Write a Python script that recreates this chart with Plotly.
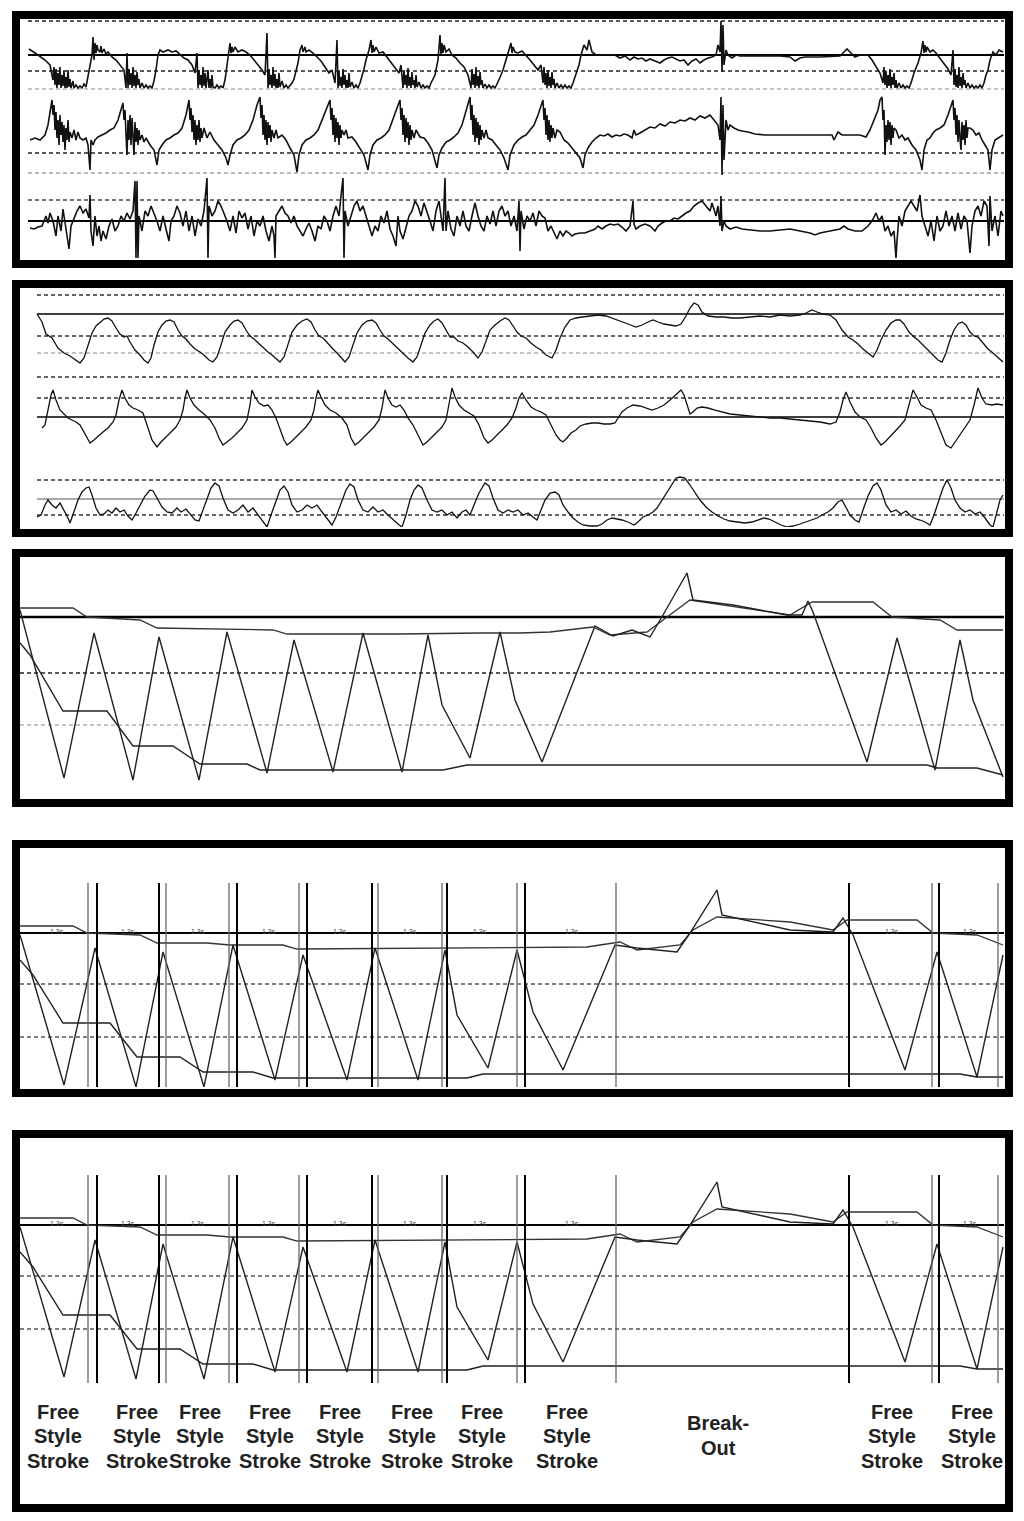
import plotly.graph_objects as go

# page pixels; the html body adds an 8px margin, so the figure is drawn 8px in
PAGE_OFF = 8
FW, FH = 1016, 1505

# ---------------- data (time index, signal value relative to channel reference) ----------------
# panel 1 : raw channels
p1a = [(29,6),(33,3),(38,0),(45,-5),(50,-10),
       (53,-25),(54,-12),(55,-30),(56,-14),(57,-33),(58,-18),(59,-30),(60,-12),(61,-33),(62,-20),(63,-31),(64,-16),(65,-33),(66,-22),(67,-33),(68,-15),(69,-32),(70,-24),(71,-33),(73,-26),(74,-33),(76,-30),(78,-33),(80,-31),(82,-33),(84,-29),(86,-32),(88,-22),(89,-15),
       (91,-5),(92,0),(93,18),(94,-5),(95,12),(96,2),(97,10),(98,5),(100,3),(101,9),(102,2),(104,6),(106,1),(108,3),(112,-2),(116,-5),(120,-10),
       (124,-15),(126,-33),(127,2),(128,-33),(129,-14),(130,-30),(131,-18),(132,-33),(133,-12),(134,-31),(135,-20),(136,-33),(137,-17),(138,-30),(139,-24),(140,-33),(142,-28),(144,-33),(146,-30),(148,-33),(150,-31),(152,-33),(154,-26),(156,-15),
       (158,0),(160,5),(163,3),(168,5),(172,3),(176,4),(180,0),(184,-3),(188,-5),(192,-10),
       (195,-18),(197,2),(198,-33),(199,-15),(200,-30),(201,-20),(202,-33),(203,-12),(204,-31),(205,-18),(206,-33),(207,-22),(208,-15),(209,-33),(210,-24),(211,-33),(212,-20),(213,-32),(215,-33),(217,-30),(219,-33),(221,-31),(223,-33),(225,-25),(227,-10),
       (229,5),(230,12),(231,2),(232,8),(233,3),(235,8),(238,3),(242,5),(246,3),(250,0),(254,-5),(258,-10),(262,-15),
       (265,-20),(267,22),(268,-33),(269,-14),(270,-30),(271,-20),(272,-33),(273,-12),(274,-31),(275,-19),(276,-33),(277,-24),(278,-33),(279,-18),(280,-32),(282,-26),(284,-33),(286,-30),(288,-33),(290,-31),(292,-28),(294,-24),(296,-15),(298,-8),
       (300,5),(302,10),(303,3),(305,8),(306,3),(309,5),(313,2),(317,-2),(321,-6),(325,-12),(329,-18),(332,-15),
       (335,-28),(337,15),(338,-33),(339,-16),(340,-31),(341,-22),(342,-33),(343,-14),(344,-30),(345,-20),(346,-33),(347,-25),(348,-33),(349,-18),(350,-32),(352,-27),(354,-33),(356,-30),(358,-33),(360,-28),(362,-22),(364,-14),(366,-5),
       (369,5),(371,15),(372,2),(373,10),(374,3),(376,8),(379,2),(383,3),(387,-2),(391,-8),(395,-12),
       (399,-18),(401,-10),(403,-33),(404,-15),(405,-30),(406,-20),(407,-33),(408,-13),(409,-31),(410,-22),(411,-33),(412,-17),(413,-30),(414,-25),(415,-33),(416,-20),(417,-32),(419,-27),(421,-33),(423,-30),(425,-33),(427,-31),(429,-33),(431,-28),(433,-24),(435,-20),(438,-5),
       (440,20),(441,0),(442,12),(443,2),(444,10),(446,3),(449,6),(452,0),(456,-3),(460,-8),(464,-12),
       (468,-20),(471,-33),(472,-14),(473,-30),(474,-19),(475,-33),(476,-12),(477,-31),(478,-21),(479,-33),(480,-17),(481,-30),(482,-25),(483,-33),(485,-29),(487,-33),(489,-30),(491,-33),(493,-31),(495,-33),(497,-29),(499,-25),(501,-20),(503,-15),
       (506,-5),(509,5),(511,12),(512,2),(513,8),(515,3),(518,2),(522,4),(526,0),(530,-5),(534,-10),(538,-15),
       (541,-10),(543,-28),(544,-12),(545,-30),(546,-18),(547,-33),(548,-15),(549,-31),(550,-22),(551,-33),(552,-17),(553,-30),(554,-24),(555,-33),(557,-28),(559,-33),(561,-30),(563,-33),(565,-30),(567,-33),(569,-31),(571,-33),(573,-28),(576,-20),(579,-10),
       (581,0),(584,10),(587,5),(589,15),(592,3),(596,0),(600,0),(605,0),(610,0),(615,0),(620,-3),(625,-1),(630,-5),(634,-2),(638,-4),(642,-3),(646,-6),(650,-4),(655,-6),(660,-8),(664,-5),(668,-3),(672,-2),(676,-4),(680,-6),(684,-5),(688,-10),(692,-6),(696,-4),(700,-8),(704,-5),(708,-3),(712,-2),(716,0),(718,10),(720,3),(721,34),(722,-17),(723,30),(724,-10),(726,5),(728,0),(732,-3),(736,0),(740,-1),(760,-1),(780,-1),(790,-2),(795,-6),(800,-3),(805,-2),(820,-2),(840,-1),(843,2),(847,6),(851,2),(855,-2),(860,0),(868,0),(872,-5),(876,-12),
       (880,-18),(883,-28),(884,-12),(885,-30),(886,-16),(887,-33),(888,-20),(889,-31),(890,-14),(891,-33),(892,-22),(893,-30),(894,-18),(895,-33),(896,-25),(897,-33),(899,-28),(901,-33),(903,-30),(905,-33),(907,-31),(909,-33),(911,-28),(914,-18),(918,-8),
       (921,2),(923,14),(924,2),(925,10),(926,3),(927,8),(930,3),(933,5),(936,2),(940,-3),(944,-8),(948,-14),
       (951,-20),(953,5),(954,-30),(955,-14),(956,-32),(957,-20),(958,-33),(959,-12),(960,-31),(961,-22),(962,-33),(963,-18),(964,-30),(965,-25),(966,-33),(968,-28),(970,-33),(972,-30),(974,-33),(976,-31),(978,-33),(980,-30),(982,-33),(984,-28),(986,-20),(988,-15),(990,-5),
       (993,3),(996,0),(999,5),(1003,3)]
p1a_solid = [0]
p1a_dash = [34, -16]
p1a_light = [-34]

p1b = [(30,10),(35,12),(40,10),(45,15),(48,25),(50,40),(52,50),(53,35),(54,45),(55,20),(56,38),(57,12),(58,30),(59,5),(60,35),(61,15),(62,28),(63,8),(64,25),(65,0),(66,22),(67,10),(68,30),(69,8),(70,18),(72,12),(74,20),(76,10),(78,18),(80,12),(83,10),(86,12),(88,5),(90,-20),(91,10),(93,5),(95,10),(98,13),(102,15),(106,17),(110,20),(114,22),(118,30),(121,40),(123,47),(124,30),(125,40),(126,15),(127,-5),(128,30),(129,10),(130,35),(131,5),(132,32),(133,12),(134,-5),(135,28),(136,8),(137,22),(138,5),(139,20),(140,10),(142,15),(144,8),(146,12),(150,5),(154,0),(157,-15),(159,0),(162,5),(166,10),(170,12),(174,15),(178,17),(182,22),(186,35),(189,50),(190,30),(191,42),(192,18),(193,35),(194,10),(195,30),(196,5),(197,25),(198,10),(199,30),(200,8),(201,22),(202,12),(204,22),(207,12),(210,18),(214,10),(218,5),(222,0),(226,-8),(228,-15),(230,-5),(233,5),(237,10),(241,12),(245,15),(249,20),(253,30),(257,45),(260,53),(261,32),(262,45),(263,15),(264,35),(265,10),(266,30),(267,5),(268,28),(269,12),(270,25),(271,8),(272,20),(274,12),(276,20),(278,12),(282,15),(286,10),(290,2),(294,-5),(297,-22),(299,-5),(302,5),(306,10),(310,12),(314,15),(318,20),(322,30),(326,40),(330,50),(331,30),(332,42),(333,15),(334,35),(335,8),(336,32),(337,12),(338,28),(339,5),(340,25),(341,12),(342,20),(344,15),(346,20),(348,12),(352,13),(356,8),(360,2),(364,-5),(368,-20),(370,-5),(373,5),(377,10),(381,12),(385,15),(389,20),(393,30),(397,42),(400,50),(401,30),(402,42),(403,15),(404,35),(405,8),(406,32),(407,12),(408,28),(409,5),(410,25),(411,10),(412,20),(414,12),(416,20),(420,13),(424,12),(428,7),(432,0),(435,-10),(437,-18),(439,-5),(442,2),(446,8),(450,10),(454,13),(458,17),(462,25),(466,38),(470,53),(471,30),(472,45),(473,15),(474,35),(475,8),(476,32),(477,12),(478,28),(479,5),(480,25),(481,10),(482,20),(484,12),(486,20),(488,12),(492,10),(496,5),(500,0),(504,-8),(508,-20),(510,-5),(514,5),(518,10),(522,13),(526,15),(530,20),(534,25),(538,35),(541,45),(543,50),(544,30),(545,42),(546,15),(547,35),(548,10),(549,30),(550,8),(551,25),(552,12),(553,22),(555,12),(557,20),(560,18),(564,10),(568,7),(572,2),(576,-2),(580,-8),(583,-18),(585,-5),(588,2),(592,8),(596,12),(600,15),(604,14),(608,16),(612,13),(616,15),(620,14),(624,16),(628,15),(632,12),(634,20),(636,15),(640,17),(645,20),(650,23),(655,22),(660,26),(665,24),(670,28),(675,27),(680,30),(685,29),(690,32),(695,30),(700,34),(705,32),(710,35),(714,30),(718,25),(720,10),(721,53),(722,-25),(723,45),(724,-10),(726,30),(728,20),(730,25),(734,22),(738,20),(742,19),(748,18),(755,16),(765,15),(780,15),(800,15),(820,15),(832,15),(834,10),(838,18),(842,15),(850,15),(860,15),(866,13),(870,20),(874,30),(878,40),(880,50),(882,53),(883,30),(884,40),(885,-5),(886,25),(887,8),(888,30),(889,10),(890,28),(891,5),(892,25),(893,12),(894,22),(896,20),(899,12),(902,15),(905,10),(908,12),(912,5),(916,0),(920,-10),(922,-20),(924,0),(927,10),(930,12),(933,17),(936,20),(940,22),(944,25),(948,35),(951,45),(953,50),(954,30),(955,42),(956,15),(957,35),(958,8),(959,30),(960,12),(961,0),(962,28),(963,10),(964,25),(965,5),(966,30),(967,12),(968,22),(970,22),(973,20),(976,15),(979,17),(982,10),(985,5),(988,0),(990,-20),(992,0),(995,10),(998,12),(1003,15)]
p1b_dash = [-3]
p1b_light = [-23]

p1c = [(30,-7),(34,-8),(38,-6),(42,-5),(46,5),(48,-2),(50,8),(53,0),(56,-15),(58,5),(61,-10),(63,12),(66,-8),(69,-28),(71,-5),(74,2),(77,10),(80,15),(83,8),(86,12),(89,3),(90,26),(91,-10),(93,-25),(95,5),(97,-15),(99,-5),(101,-20),(103,-10),(106,-18),(109,-5),(112,2),(115,-10),(118,-5),(121,5),(124,0),(127,8),(130,2),(133,10),(135,40),(136,-37),(137,40),(138,-37),(139,5),(142,-10),(145,10),(148,5),(151,15),(154,8),(157,0),(160,-10),(163,5),(166,-8),(169,-20),(171,0),(174,5),(177,15),(180,8),(183,-5),(186,10),(189,-10),(192,5),(195,-15),(198,2),(201,-5),(204,10),(207,43),(208,-37),(209,15),(212,5),(215,10),(218,20),(221,15),(224,8),(227,0),(230,-10),(233,5),(236,-12),(239,10),(242,3),(245,8),(248,-8),(251,5),(254,-15),(257,0),(260,-5),(263,5),(266,-10),(269,-20),(272,-5),(274,-15),(275,-37),(276,5),(279,10),(282,15),(285,8),(288,5),(291,-2),(294,5),(297,-5),(300,-10),(303,-15),(306,-8),(309,-2),(312,-10),(315,-20),(318,-5),(321,-8),(324,5),(327,0),(330,-10),(333,5),(336,15),(339,5),(341,25),(343,43),(344,-37),(345,10),(348,-5),(351,5),(354,15),(357,20),(360,10),(363,15),(366,5),(369,-5),(372,-15),(375,-5),(378,-10),(381,5),(384,-2),(387,10),(390,-8),(393,-15),(396,-25),(398,5),(400,-10),(403,-18),(406,-5),(409,5),(412,10),(415,20),(418,15),(421,5),(424,18),(427,10),(430,0),(433,-10),(436,10),(439,20),(441,5),(443,-10),(445,43),(446,-10),(448,10),(451,-8),(454,-15),(457,5),(460,-5),(463,10),(466,-5),(469,-10),(472,5),(475,18),(478,5),(481,-5),(484,-10),(487,5),(490,-3),(493,10),(496,-5),(499,10),(502,15),(505,5),(508,10),(511,-5),(514,5),(517,-10),(519,20),(520,-30),(521,10),(524,-8),(527,5),(530,0),(533,8),(536,-5),(539,10),(542,5),(545,3),(548,-10),(551,-5),(554,-12),(557,-18),(560,-10),(563,-15),(566,-10),(569,-12),(572,-15),(575,-13),(580,-12),(585,-12),(590,-10),(595,-8),(598,-5),(602,-8),(606,-5),(610,-3),(614,-4),(618,-3),(622,-6),(626,-10),(630,-5),(633,20),(634,-3),(636,-8),(640,-5),(645,-3),(650,-5),(655,-10),(658,-5),(662,-2),(666,0),(670,0),(674,3),(678,2),(682,5),(686,8),(690,10),(694,15),(698,18),(702,20),(706,15),(710,10),(712,18),(716,5),(718,15),(720,-5),(721,25),(722,-10),(724,0),(726,-5),(730,-8),(736,-6),(742,-8),(750,-9),(760,-10),(770,-10),(780,-9),(790,-8),(800,-10),(810,-12),(815,-14),(820,-12),(830,-10),(840,-8),(844,-5),(848,-8),(855,-10),(862,-10),(868,-5),(872,0),(876,8),(879,0),(882,5),(885,-10),(888,-5),(891,-15),(894,-10),(896,-37),(897,-20),(899,5),(902,-5),(905,10),(908,15),(911,20),(914,15),(917,10),(920,26),(922,5),(925,-5),(928,-15),(931,0),(934,-20),(937,5),(940,-10),(943,-5),(946,10),(949,-5),(952,5),(955,-10),(958,8),(961,-8),(964,5),(967,0),(970,-32),(972,-5),(975,10),(978,15),(981,5),(984,20),(987,15),(989,-25),(990,25),(992,-10),(995,5),(998,-15),(1001,10),(1003,5)]
p1c_solid = [0]
p1c_dash = [21]

# panel 2 : filtered channels
p2a = [(37,0),(42,-8),(46,-20),(52,-24),(58,-34),(64,-39),(70,-42),(76,-46),(80,-49),(84,-44),(88,-31),(92,-19),(96,-12),(100,-8),(104,-5),(108,-4),(112,-7),(116,-14),(120,-20),(124,-23),(127,-22),(130,-28),(135,-36),(140,-41),(144,-46),(148,-49),(151,-44),(154,-31),(158,-18),(162,-11),(166,-7),(170,-6),(174,-8),(178,-16),(182,-22),(186,-25),(190,-30),(195,-35),(200,-38),(205,-42),(209,-46),(213,-48),(217,-43),(221,-31),(225,-18),(230,-11),(234,-7),(238,-6),(242,-9),(246,-16),(250,-22),(254,-25),(258,-29),(263,-34),(268,-38),(272,-41),(276,-45),(280,-48),(284,-43),(288,-31),(292,-18),(297,-11),(302,-7),(307,-5),(311,-8),(315,-16),(319,-22),(323,-24),(328,-30),(333,-35),(338,-40),(342,-44),(345,-48),(349,-43),(353,-31),(357,-19),(362,-11),(367,-7),(372,-6),(376,-9),(380,-16),(384,-22),(388,-25),(393,-30),(398,-35),(403,-40),(408,-44),(413,-48),(417,-43),(421,-31),(425,-19),(430,-11),(434,-7),(438,-5),(442,-9),(446,-16),(450,-23),(454,-23),(458,-27),(463,-29),(468,-33),(473,-38),(478,-44),(482,-38),(486,-26),(490,-16),(495,-11),(500,-7),(505,-4),(509,-6),(513,-12),(517,-18),(521,-22),(526,-24),(531,-29),(536,-33),(541,-36),(546,-41),(552,-44),(556,-36),(560,-24),(565,-13),(570,-6),(576,-4),(582,-3),(590,-2),(598,-1),(606,-2),(612,-4),(620,-7),(628,-10),(636,-13),(642,-11),(648,-8),(653,-6),(658,-8),(664,-10),(670,-11),(676,-12),(681,-10),(686,-2),(690,6),(694,11),(698,9),(702,2),(708,-2),(716,-3),(724,-3),(732,-4),(740,-4),(750,-3),(760,-2),(770,-3),(780,-1),(790,-2),(800,-1),(806,1),(812,4),(817,2),(823,0),(830,-1),(836,-6),(842,-16),(848,-23),(853,-26),(858,-30),(863,-35),(868,-39),(873,-43),(877,-36),(881,-26),(886,-16),(891,-9),(896,-6),(900,-6),(904,-10),(909,-18),(914,-23),(918,-26),(923,-31),(928,-36),(933,-41),(938,-46),(942,-48),(946,-39),(950,-26),(954,-16),(958,-10),(962,-8),(966,-11),(970,-18),(974,-22),(978,-23),(983,-29),(988,-35),(993,-39),(998,-44),(1003,-48)]
p2a_solid = [0]
p2a_dash = [19, -22]
p2a_light = [-39]

p2b = [(42,-11),(45,-8),(48,7),(51,22),(53,27),(56,17),(60,7),(64,3),(68,-1),(72,-3),(76,-5),(80,-8),(84,-15),(88,-23),(90,-26),(94,-23),(98,-19),(103,-15),(108,-11),(113,-5),(116,2),(119,17),(122,27),(125,19),(129,12),(133,9),(138,7),(143,4),(147,-8),(152,-23),(157,-30),(161,-25),(166,-20),(171,-15),(176,-10),(180,-3),(183,7),(185,19),(187,27),(190,19),(194,12),(199,7),(204,3),(210,-3),(215,-11),(219,-21),(223,-28),(227,-25),(232,-21),(237,-16),(242,-11),(247,-3),(250,12),(252,27),(255,20),(259,14),(264,11),(268,12),(272,7),(276,-1),(280,-13),(284,-23),(287,-28),(291,-25),(296,-20),(301,-15),(306,-10),(311,-3),(314,7),(316,19),(318,27),(321,20),(325,12),(330,7),(336,4),(342,-1),(347,-8),(351,-21),(355,-28),(359,-25),(364,-20),(369,-15),(374,-10),(379,-3),(382,9),(385,27),(388,19),(392,12),(396,10),(400,12),(404,7),(408,-1),(413,-8),(418,-18),(423,-28),(427,-25),(432,-20),(437,-15),(442,-10),(446,-3),(449,12),(452,29),(455,20),(459,12),(464,7),(469,4),(474,1),(479,-8),(484,-21),(488,-26),(492,-23),(497,-18),(502,-13),(507,-8),(512,-1),(516,9),(519,19),(522,24),(526,17),(531,10),(536,7),(541,5),(546,2),(551,-8),(556,-18),(560,-23),(563,-25),(567,-21),(571,-16),(576,-13),(580,-9),(586,-7),(592,-6),(598,-6),(604,-7),(610,-7),(615,-6),(618,-1),(622,5),(627,9),(633,12),(640,11),(646,9),(652,7),(658,9),(664,12),(670,17),(676,22),(681,27),(684,22),(687,12),(690,3),(693,5),(697,9),(702,10),(708,9),(715,7),(722,5),(730,3),(740,2),(750,1),(760,0),(770,-1),(780,-1),(790,-2),(800,-3),(810,-4),(820,-5),(830,-7),(836,-5),(840,5),(843,17),(846,25),(850,15),(855,5),(860,0),(866,-3),(871,-11),(876,-21),(881,-28),(885,-25),(890,-20),(895,-15),(900,-9),(905,-3),(909,12),(913,27),(917,20),(921,12),(926,9),(931,7),(936,-3),(941,-16),(946,-28),(951,-31),(955,-25),(960,-18),(965,-11),(970,-3),(974,12),(978,29),(982,19),(986,13),(992,12),(997,13),(1003,12)]
p2b_solid = [0]
p2b_dash = [40, 19]

p2c = [(37,-18),(41,-16),(45,-6),(48,-1),(52,-6),(56,-9),(60,-4),(64,-11),(68,-19),(70,-24),(74,-13),(78,-1),(82,7),(86,11),(89,12),(92,4),(96,-9),(100,-16),(104,-15),(108,-11),(112,-14),(116,-9),(120,-13),(124,-11),(128,-17),(132,-21),(136,-14),(140,-6),(145,3),(150,9),(153,8),(157,1),(162,-8),(167,-13),(172,-14),(177,-9),(181,-13),(186,-10),(190,-15),(195,-21),(199,-22),(203,-11),(207,1),(211,11),(215,16),(219,13),(223,1),(228,-11),(233,-14),(238,-11),(243,-6),(248,-13),(253,-9),(258,-16),(263,-23),(267,-28),(271,-16),(276,-1),(280,9),(284,13),(288,7),(292,-6),(297,-13),(302,-11),(307,-6),(312,-9),(317,-6),(322,-13),(327,-19),(332,-26),(336,-18),(341,-4),(346,9),(350,15),(354,12),(358,-1),(363,-11),(368,-13),(373,-8),(378,-13),(383,-11),(388,-16),(393,-21),(398,-25),(402,-28),(406,-16),(410,-1),(414,9),(418,14),(422,11),(427,-1),(432,-11),(437,-13),(442,-11),(447,-16),(452,-13),(457,-19),(462,-13),(466,-11),(470,-16),(474,-6),(479,6),(485,16),(489,13),(493,1),(498,-11),(503,-14),(508,-11),(513,-13),(518,-11),(523,-16),(528,-14),(533,-18),(537,-21),(541,-11),(545,-1),(550,6),(555,7),(559,4),(563,-6),(568,-13),(573,-19),(578,-23),(583,-26),(590,-27),(597,-27),(602,-25),(607,-21),(612,-19),(617,-20),(622,-21),(628,-23),(634,-26),(638,-23),(643,-18),(648,-16),(653,-13),(657,-9),(662,-1),(667,7),(672,16),(676,21),(680,22),(685,21),(690,14),(695,6),(700,-1),(706,-8),(712,-13),(718,-17),(724,-20),(730,-22),(737,-23),(745,-24),(752,-23),(758,-21),(764,-19),(769,-20),(775,-23),(781,-26),(787,-28),(793,-27),(800,-25),(806,-23),(812,-21),(817,-19),(822,-16),(828,-13),(833,-9),(838,-3),(842,-1),(846,-9),(850,-16),(855,-21),(859,-23),(863,-11),(868,3),(873,13),(877,16),(881,9),(886,-6),(891,-13),(896,-11),(901,-15),(906,-12),(911,-17),(916,-20),(920,-21),(925,-23),(930,-26),(934,-16),(939,-1),(943,11),(947,19),(951,11),(955,-1),(960,-9),(965,-13),(970,-11),(975,-15),(980,-13),(985,-19),(990,-26),(993,-28),(996,-16),(1000,-1),(1003,4)]
p2c_solid = [0]
p2c_dash = [19, -16]

# panel 3 : stroke angle with running max / min envelopes
p3_angle = [(20,7),(64,-161),(94,-16),(133,-163),(159,-20),(199,-163),(227,-15),(267,-156),(294,-23),(333,-155),(363,-16),(402,-155),(428,-18),(442,-88),(470,-141),(500,-15),(515,-83),(542,-145),(595,-9),(613,-19),(632,-13),(650,-20),(663,2),(687,44),(693,17),(733,12),(787,2),(802,2),(808,16),(813,5),(867,-145),(897,-21),(935,-153),(960,-23),(973,-83),(1003,-160)]
p3_upper = [(20,9),(73,9),(87,0),(140,-3),(157,-11),(213,-12),(273,-13),(287,-17),(340,-17),(400,-17),(480,-16),(520,-16),(550,-15),(593,-10),(610,-18),(647,-15),(667,0),(690,17),(790,2),(812,15),(873,15),(892,0),(940,-3),(957,-13),(1003,-13)]
p3_lower = [(20,-26),(30,-38),(63,-94),(107,-94),(133,-129),(173,-129),(200,-147),(247,-147),(260,-153),(443,-153),(467,-148),(520,-148),(867,-148),(927,-148),(937,-151),(977,-151),(1003,-158)]
p3_solid = [0]
p3_dash = [-56]
p3_light = [-108]

# panels 4 and 5 : segmented stroke angle
p4_angle = [(20,-2),(64,-152),(95,-15),(136,-154),(163,-19),(204,-154),(233,-12),(275,-147),(303,-22),(347,-147),(375,-15),(418,-147),(445,-17),(457,-82),(488,-135),(517,-17),(533,-79),(563,-137),(615,-12),(637,-15),(677,-19),(690,0),(717,43),(722,18),(790,3),(833,1),(843,15),(853,-2),(905,-137),(937,-19),(977,-144),(1003,-22)]
p4_upper = [(20,7),(73,7),(87,0),(140,-2),(157,-10),(207,-10),(230,-12),(283,-12),(297,-16),(500,-15),(587,-14),(600,-12),(620,-9),(637,-17),(680,-12),(693,3),(717,16),(790,11),(833,3),(847,13),(917,13),(933,0),(977,-2),(1003,-12)]
p4_lower = [(20,-27),(33,-42),(63,-90),(110,-90),(137,-124),(180,-124),(203,-139),(253,-139),(273,-145),(467,-145),(483,-141),(960,-141),(977,-144),(1003,-144)]
p4_solid = [0]
p4_dash = [-51, -104]

# stroke events (vertical markers)
events_main = [97, 159, 237, 307, 372, 447, 525, 849, 939]
events_aux = [88, 166, 229, 299, 378, 442, 517, 616, 932, 998]
cycle_marks = [57, 128, 198, 269, 340, 410, 480, 572, 892, 970]
cycle_text = "1.3s"

# phase labels
phase_times = [58, 137, 200, 270, 340, 412, 482, 567, 892, 972, 718]
phase_names = ["Free\nStyle\nStroke"] * 10 + ["Break-\nOut"]

# ---------------- geometry (page pixel rows / columns) ----------------
X0, X1 = 20, 1004
inner_rows = {1: (18, 258), 2: (288, 527), 3: (557, 798), 4: (848, 1087), 5: (1138, 1503)}
outer_rows = {1: (11, 268), 2: (280, 537), 3: (549, 807), 4: (840, 1097), 5: (1130, 1512)}
# (panel, reference row) for each y axis
channels = [(1, 55), (1, 150), (1, 221), (2, 314), (2, 417), (2, 499), (3, 617), (4, 933), (5, 1225)]


def px(col):
    return (col - PAGE_OFF) / FW


def py(row):
    return 1 - (row - PAGE_OFF) / FH


fig = go.Figure()
layout = dict(width=FW, height=FH, margin=dict(l=0, r=0, t=0, b=0), autosize=False,
              paper_bgcolor="white", plot_bgcolor="rgba(0,0,0,0)", showlegend=False)
for p in range(1, 6):
    key = "xaxis" if p == 1 else f"xaxis{p}"
    layout[key] = dict(domain=[px(X0), px(X1)], range=[X0, X1], visible=False, fixedrange=True)
for i, (p, ref) in enumerate(channels, start=1):
    top, bot = inner_rows[p]
    key = "yaxis" if i == 1 else f"yaxis{i}"
    layout[key] = dict(domain=[py(bot), py(top)], range=[ref - bot, ref - top],
                       anchor="x" if p == 1 else f"x{p}", visible=False, fixedrange=True)
fig.update_layout(**layout)


def xa(p):
    return "x" if p == 1 else f"x{p}"


def ya(i):
    return "y" if i == 1 else f"y{i}"


def add_line(pts, p, i, color="black", width=1.2):
    t, v = zip(*pts)
    fig.add_trace(go.Scatter(x=list(t), y=list(v), mode="lines", xaxis=xa(p), yaxis=ya(i),
                             line=dict(color=color, width=width), hoverinfo="skip"))


def add_levels(levels, p, i, x_start, color, width, dash):
    for lv in levels:
        fig.add_shape(type="line", xref=xa(p), yref=ya(i), x0=x_start, x1=1004, y0=lv, y1=lv,
                      line=dict(color=color, width=width, dash=dash), layer="below")


SOLID = "solid"
DASH = "4px,3px"

# panel 1
add_levels(p1a_solid, 1, 1, 28, "black", 1.8, SOLID)
add_levels(p1a_dash, 1, 1, 28, "#222", 1.4, DASH)
add_levels(p1a_light, 1, 1, 28, "#888", 1.2, DASH)
add_levels(p1b_dash, 1, 2, 28, "#222", 1.4, DASH)
add_levels(p1b_light, 1, 2, 28, "#777", 1.2, DASH)
add_levels(p1c_solid, 1, 3, 28, "black", 1.8, SOLID)
add_levels(p1c_dash, 1, 3, 28, "#444", 1.3, DASH)
add_line(p1a, 1, 1, "#111", 1.6)
add_line(p1b, 1, 2, "#111", 1.6)
add_line(p1c, 1, 3, "#111", 1.6)

# panel 2
add_levels(p2a_solid, 2, 4, 37, "black", 1.6, SOLID)
add_levels(p2a_dash, 2, 4, 37, "#333", 1.6, DASH)
add_levels(p2a_light, 2, 4, 37, "#888", 1.2, DASH)
add_levels(p2b_solid, 2, 5, 37, "black", 1.6, SOLID)
add_levels(p2b_dash, 2, 5, 37, "#333", 1.6, DASH)
add_levels(p2c_solid, 2, 6, 37, "#555", 1.2, SOLID)
add_levels(p2c_dash, 2, 6, 37, "#333", 1.3, DASH)
add_line(p2a, 2, 4, "#111", 1.3)
add_line(p2b, 2, 5, "#111", 1.3)
add_line(p2c, 2, 6, "#111", 1.3)

# panel 3
add_levels(p3_solid, 3, 7, 20, "black", 2.4, SOLID)
add_levels(p3_dash, 3, 7, 20, "#222", 1.4, DASH)
add_levels(p3_light, 3, 7, 20, "#888", 1.2, DASH)
add_line(p3_upper, 3, 7, "#333", 1.3)
add_line(p3_lower, 3, 7, "#222", 1.4)
add_line(p3_angle, 3, 7, "#222", 1.4)

# panels 4 and 5 share the same traces
for p, i, bottom in [(4, 8, -154), (5, 9, -158)]:
    add_levels(p4_solid, p, i, 20, "black", 2.2, SOLID)
    add_levels(p4_dash, p, i, 20, "#555", 1.6, DASH)
    for t in events_aux:
        fig.add_shape(type="line", xref=xa(p), yref=ya(i), x0=t, x1=t, y0=bottom, y1=50,
                      line=dict(color="#666", width=1.3))
    for t in events_main:
        fig.add_shape(type="line", xref=xa(p), yref=ya(i), x0=t, x1=t, y0=bottom, y1=50,
                      line=dict(color="black", width=2))
    add_line(p4_upper, p, i, "#333", 1.3)
    add_line(p4_lower, p, i, "#222", 1.4)
    add_line(p4_angle, p, i, "#222", 1.4)
    for t in cycle_marks:
        fig.add_annotation(x=t, y=2, xref=xa(p), yref=ya(i), text=cycle_text, showarrow=False,
                           font=dict(size=7, color="#444", family="Liberation Sans"))

# phase labels under panel 5
for t, name in zip(phase_times, phase_names):
    lines = name.split("\n")
    rows = [1412, 1436, 1461] if len(lines) == 3 else [1423, 1448]
    for txt, row in zip(lines, rows):
        fig.add_annotation(x=t, y=py(row), xref="x5", yref="paper", text=f"<b>{txt}</b>",
                           showarrow=False, xanchor="center", yanchor="middle",
                           font=dict(size=20, color="#222", family="Liberation Sans"))

# thick panel frames
for p, (top, bot) in outer_rows.items():
    fig.add_shape(type="rect", xref="paper", yref="paper", x0=px(16), x1=px(1009),
                  y0=py(bot - 4), y1=py(top + 4),
                  line=dict(color="black", width=8), fillcolor="rgba(0,0,0,0)")

fig.write_html("out.html")
